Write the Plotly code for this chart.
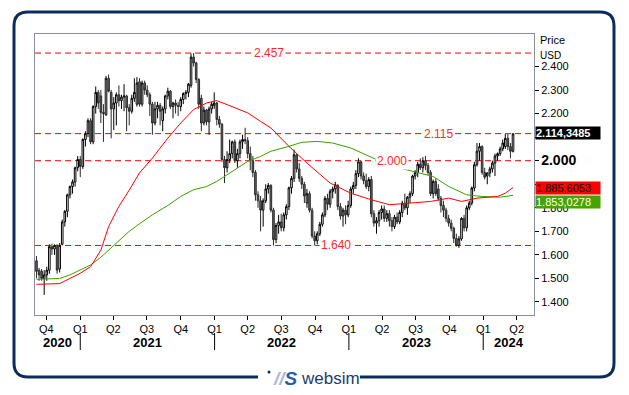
import pandas as pd
import plotly.graph_objects as go

# ---------------- data (weekly candles) ----------------
start_week = "2020-09-04"

opens = [
    1.575, 1.535, 1.530, 1.500, 1.515, 1.535, 1.635, 1.625, 1.635, 1.540,
    1.645, 1.740, 1.785, 1.855, 1.890, 1.910, 1.970, 2.005, 1.975, 2.090,
    2.115, 2.170, 2.080, 2.230, 2.290, 2.275, 2.205, 2.195, 2.350, 2.290,
    2.220, 2.245, 2.280, 2.255, 2.270, 2.275, 2.225, 2.210, 2.265, 2.240,
    2.335, 2.240, 2.330, 2.300, 2.280, 2.240, 2.160, 2.220, 2.235, 2.170,
    2.220, 2.275, 2.295, 2.230, 2.245, 2.235, 2.230, 2.260, 2.285, 2.290,
    2.320, 2.440, 2.415, 2.345, 2.265, 2.160, 2.215, 2.165, 2.220, 2.235,
    2.245, 2.175, 2.155, 2.005, 1.970, 2.005, 2.030, 2.080, 2.000, 2.030,
    2.080, 2.090, 2.085, 2.030, 2.000, 1.950, 1.855, 1.830, 1.790, 1.830,
    1.880, 1.895, 1.790, 1.665, 1.725, 1.740, 1.715, 1.770, 1.805, 1.885,
    1.925, 2.025, 1.965, 1.925, 1.900, 1.820, 1.860, 1.790, 1.680, 1.660,
    1.690, 1.730, 1.770, 1.840, 1.815, 1.870, 1.880, 1.895, 1.805, 1.765,
    1.790, 1.770, 1.810, 1.880, 1.895, 1.945, 1.995, 1.935, 1.915, 1.890,
    1.920, 1.775, 1.735, 1.745, 1.780, 1.795, 1.755, 1.775, 1.745, 1.720,
    1.760, 1.740, 1.780, 1.820, 1.800, 1.845, 1.860, 1.935, 1.950, 1.985,
    1.970, 2.000, 1.980, 1.950, 1.860, 1.912, 1.880, 1.840, 1.810, 1.790,
    1.755, 1.735, 1.713, 1.670, 1.640, 1.668, 1.755, 1.715, 1.800, 1.820,
    1.884, 1.983, 2.040, 2.060, 1.950, 1.935, 1.948, 1.965, 1.990, 2.020,
    2.030, 2.050, 2.060, 2.095, 2.060, 2.040,
]
highs = [
    1.595, 1.545, 1.540, 1.535, 1.550, 1.645, 1.648, 1.645, 1.645, 1.650,
    1.750, 1.790, 1.860, 1.895, 1.920, 1.975, 2.020, 2.020, 2.095, 2.125,
    2.180, 2.180, 2.235, 2.315, 2.300, 2.300, 2.240, 2.360, 2.366, 2.300,
    2.270, 2.290, 2.320, 2.280, 2.325, 2.280, 2.240, 2.280, 2.350, 2.355,
    2.350, 2.340, 2.340, 2.320, 2.290, 2.250, 2.250, 2.250, 2.245, 2.230,
    2.280, 2.310, 2.300, 2.250, 2.260, 2.250, 2.270, 2.290, 2.300, 2.330,
    2.455, 2.457, 2.420, 2.350, 2.280, 2.230, 2.220, 2.230, 2.250, 2.290,
    2.250, 2.190, 2.160, 2.020, 2.040, 2.090, 2.085, 2.090, 2.050, 2.090,
    2.110, 2.140, 2.100, 2.060, 2.020, 1.960, 1.870, 1.850, 1.840, 1.900,
    1.905, 1.900, 1.800, 1.735, 1.770, 1.775, 1.780, 1.815, 1.890, 1.935,
    2.047, 2.030, 1.990, 1.935, 1.910, 1.880, 1.870, 1.800, 1.700, 1.700,
    1.740, 1.780, 1.850, 1.860, 1.880, 1.890, 1.910, 1.900, 1.820, 1.800,
    1.810, 1.830, 1.890, 1.910, 1.960, 2.010, 2.000, 1.950, 1.945, 1.930,
    1.935, 1.790, 1.760, 1.790, 1.810, 1.810, 1.790, 1.790, 1.760, 1.770,
    1.780, 1.790, 1.830, 1.860, 1.850, 1.870, 1.940, 1.960, 1.995, 2.010,
    2.015, 2.020, 1.990, 1.960, 1.920, 1.925, 1.900, 1.850, 1.830, 1.800,
    1.770, 1.750, 1.720, 1.690, 1.680, 1.760, 1.770, 1.810, 1.830, 1.890,
    1.995, 2.075, 2.075, 2.065, 1.970, 1.950, 1.975, 2.000, 2.030, 2.035,
    2.060, 2.090, 2.113, 2.113, 2.075, 2.116,
]
lows = [
    1.500, 1.490, 1.490, 1.430, 1.490, 1.520, 1.600, 1.600, 1.520, 1.525,
    1.640, 1.720, 1.760, 1.840, 1.860, 1.890, 1.955, 1.930, 1.965, 2.060,
    2.100, 2.070, 2.070, 2.200, 2.220, 2.160, 2.080, 2.190, 2.290, 2.095,
    2.130, 2.150, 2.230, 2.220, 2.210, 2.125, 2.150, 2.200, 2.250, 2.230,
    2.230, 2.230, 2.280, 2.270, 2.190, 2.110, 2.150, 2.180, 2.150, 2.125,
    2.200, 2.260, 2.220, 2.180, 2.200, 2.190, 2.210, 2.240, 2.260, 2.270,
    2.310, 2.400, 2.330, 2.220, 2.125, 2.150, 2.150, 2.110, 2.200, 2.220,
    2.150, 2.140, 1.995, 1.905, 1.950, 1.990, 2.010, 1.990, 1.970, 2.010,
    2.050, 2.070, 2.010, 1.960, 1.930, 1.830, 1.800, 1.700, 1.720, 1.820,
    1.860, 1.780, 1.640, 1.650, 1.690, 1.700, 1.700, 1.750, 1.790, 1.860,
    1.910, 1.950, 1.910, 1.880, 1.820, 1.800, 1.780, 1.670, 1.640, 1.645,
    1.680, 1.720, 1.760, 1.790, 1.800, 1.840, 1.860, 1.790, 1.750, 1.720,
    1.730, 1.760, 1.800, 1.860, 1.880, 1.930, 1.920, 1.900, 1.880, 1.870,
    1.760, 1.720, 1.690, 1.720, 1.750, 1.740, 1.740, 1.720, 1.700, 1.710,
    1.730, 1.730, 1.760, 1.790, 1.770, 1.820, 1.850, 1.920, 1.930, 1.960,
    1.950, 1.960, 1.940, 1.850, 1.840, 1.850, 1.830, 1.780, 1.760, 1.740,
    1.720, 1.700, 1.650, 1.635, 1.630, 1.660, 1.700, 1.700, 1.790, 1.810,
    1.870, 1.975, 2.000, 1.940, 1.920, 1.900, 1.930, 1.950, 1.935, 2.000,
    2.020, 2.040, 2.050, 2.045, 2.010, 2.035,
]
closes = [
    1.530, 1.515, 1.500, 1.515, 1.535, 1.635, 1.625, 1.640, 1.535, 1.640,
    1.740, 1.785, 1.855, 1.890, 1.910, 1.970, 2.005, 1.975, 2.090, 2.115,
    2.170, 2.080, 2.230, 2.290, 2.245, 2.205, 2.200, 2.350, 2.295, 2.220,
    2.245, 2.280, 2.255, 2.270, 2.275, 2.225, 2.210, 2.265, 2.290, 2.330,
    2.240, 2.330, 2.300, 2.280, 2.240, 2.160, 2.220, 2.235, 2.210, 2.220,
    2.275, 2.295, 2.230, 2.245, 2.235, 2.230, 2.260, 2.285, 2.290, 2.325,
    2.440, 2.415, 2.345, 2.240, 2.160, 2.215, 2.165, 2.220, 2.240, 2.245,
    2.175, 2.155, 2.005, 1.970, 2.005, 2.030, 2.080, 2.000, 2.030, 2.080,
    2.090, 2.085, 2.030, 2.000, 1.950, 1.855, 1.830, 1.790, 1.830, 1.880,
    1.895, 1.790, 1.665, 1.725, 1.740, 1.715, 1.770, 1.805, 1.885, 1.925,
    2.025, 1.965, 1.925, 1.900, 1.850, 1.860, 1.790, 1.680, 1.660, 1.690,
    1.730, 1.770, 1.840, 1.815, 1.870, 1.880, 1.898, 1.805, 1.765, 1.790,
    1.770, 1.810, 1.880, 1.895, 1.945, 1.995, 1.935, 1.915, 1.890, 1.920,
    1.775, 1.735, 1.745, 1.780, 1.795, 1.755, 1.775, 1.745, 1.720, 1.760,
    1.740, 1.780, 1.820, 1.800, 1.845, 1.860, 1.935, 1.950, 1.985, 1.970,
    2.000, 1.980, 1.950, 1.860, 1.912, 1.860, 1.840, 1.810, 1.790, 1.755,
    1.735, 1.713, 1.670, 1.640, 1.668, 1.755, 1.715, 1.800, 1.820, 1.884,
    1.983, 2.040, 2.060, 1.950, 1.930, 1.948, 1.965, 1.990, 2.020, 2.030,
    2.050, 2.075, 2.095, 2.060, 2.040, 2.114,
]

# moving averages (week index -> value)
red_ma_weeks = [0, 4, 9, 13, 17, 21, 25, 28, 32, 36, 40, 45, 51, 56, 61, 66, 70, 74,
                82, 87, 91, 98, 105, 114, 122, 130, 137, 145, 153, 160, 165, 171,
                179, 182, 185]
red_ma_values = [1.475, 1.475, 1.478, 1.500, 1.522, 1.550, 1.620, 1.720, 1.806, 1.875,
                 1.948, 2.011, 2.096, 2.160, 2.217, 2.245, 2.255, 2.238, 2.203, 2.167,
                 2.139, 2.061, 1.990, 1.905, 1.862, 1.834, 1.813, 1.820, 1.827, 1.841,
                 1.827, 1.841, 1.848, 1.862, 1.886]
green_ma_weeks = [0, 9, 13, 17, 21, 25, 28, 32, 36, 40, 45, 51, 56, 61, 66, 70, 74, 78,
                  82, 87, 91, 98, 103, 109, 115, 122, 128, 135, 141, 148, 154, 160,
                  167, 173, 180, 185]
green_ma_values = [1.496, 1.500, 1.515, 1.536, 1.557, 1.590, 1.620, 1.660, 1.700, 1.732,
                   1.770, 1.810, 1.848, 1.877, 1.890, 1.912, 1.940, 1.969, 1.997, 2.018,
                   2.040, 2.061, 2.078, 2.082, 2.075, 2.054, 2.026, 1.990, 1.969, 1.948,
                   1.933, 1.891, 1.855, 1.848, 1.845, 1.853]

level_values = [2.457, 2.115, 2.000, 1.640]
level_labels = ["2.457", "2.115", "2.000", "1.640"]

last_price_text = "2.114,3485"
red_ma_text = "1.885,6053"
green_ma_text = "1.853,0278"
last_price = 2.1143485
red_ma_last = 1.8856053
green_ma_last = 1.8530278

y_ticks = [1.4, 1.5, 1.6, 1.7, 1.8, 1.9, 2.0, 2.1, 2.2, 2.3, 2.4]
y_tick_labels = ["1.400", "1.500", "1.600", "1.700", "1.800", "", "2.000", "",
                 "2.200", "2.300", "2.400"]
quarter_ticks = ["2020-10-01", "2021-01-01", "2021-04-01", "2021-07-01", "2021-10-01",
                 "2022-01-01", "2022-04-01", "2022-07-01", "2022-10-01", "2023-01-01",
                 "2023-04-01", "2023-07-01", "2023-10-01", "2024-01-01", "2024-04-01"]
quarter_labels = ["Q4", "Q1", "Q2", "Q3", "Q4", "Q1", "Q2", "Q3", "Q4", "Q1",
                  "Q2", "Q3", "Q4", "Q1", "Q2"]
year_starts = ["2021-01-01", "2022-01-01", "2023-01-01", "2024-01-01"]
year_labels = ["2020", "2021", "2022", "2023", "2024"]

# ---------------- build ----------------
weeks = pd.date_range(start_week, periods=len(closes), freq="7D")
red_dates = [weeks[i] for i in red_ma_weeks]
green_dates = [weeks[i] for i in green_ma_weeks]

X0, X1 = pd.Timestamp("2020-08-31"), pd.Timestamp("2024-05-18")
Y0, Y1 = 1.3447, 2.538

# plot area in pixels
PL, PR, PT, PB = 35, 534, 34, 315
W, H = 629, 395


def px(X):
    return (X - PL) / (PR - PL)


def py(Y):
    return (PB - Y) / (PB - PT)


FONT = "Arial, Liberation Sans, sans-serif"

fig = go.Figure()

fig.add_trace(go.Scatter(x=green_dates, y=green_ma_values, mode="lines",
                         line=dict(color="#3aa000", width=1), hoverinfo="skip"))
fig.add_trace(go.Scatter(x=red_dates, y=red_ma_values, mode="lines",
                         line=dict(color="#ff0000", width=1), hoverinfo="skip"))

fig.add_trace(go.Candlestick(
    x=weeks, open=opens, high=highs, low=lows, close=closes,
    increasing=dict(line=dict(color="#000000", width=1), fillcolor="#ffffff"),
    decreasing=dict(line=dict(color="#2a2a2a", width=1), fillcolor="#6a6a6a"),
    whiskerwidth=0,
))

shapes = []
annotations = []

# horizontal level lines
for v in level_values:
    shapes.append(dict(type="line", xref="paper", x0=0, x1=1, yref="y", y0=v, y1=v,
                       line=dict(color="#ff0000", width=1, dash="6px,4px"), layer="below"))
level_label_x = [269, 438, 392, 336]
for v, t, lx in zip(level_values, level_labels, level_label_x):
    annotations.append(dict(x=px(lx), xref="paper", y=v, yref="y", text=t, showarrow=False,
                            font=dict(family=FONT, size=12, color="#ff2a2a"),
                            bgcolor="#ffffff", borderpad=1, xanchor="center", yanchor="middle"))

# year separators and labels
for d in year_starts:
    shapes.append(dict(type="line", xref="x", x0=d, x1=d, yref="paper",
                       y0=py(333), y1=py(350), line=dict(color="#000000", width=1)))
year_bounds = [X0] + [pd.Timestamp(d) for d in year_starts] + [X1]
for k, t in enumerate(year_labels):
    mid = year_bounds[k] + (year_bounds[k + 1] - year_bounds[k]) / 2
    annotations.append(dict(x=mid, xref="x", y=py(342), yref="paper", text="<b>" + t + "</b>",
                            showarrow=False, font=dict(family=FONT, size=13, color="#000000"),
                            xanchor="center", yanchor="middle"))

# right-side labels
annotations.append(dict(x=px(538), xref="paper", y=py(40), yref="paper", text="Price",
                        showarrow=False, xanchor="left", yanchor="middle",
                        font=dict(family=FONT, size=11, color="#000000")))
annotations.append(dict(x=px(538), xref="paper", y=py(55), yref="paper", text="USD",
                        showarrow=False, xanchor="left", yanchor="middle",
                        font=dict(family=FONT, size=10, color="#000000")))

annotations.append(dict(x=px(535), xref="paper", y=last_price, yref="y", yshift=1,
                        text="<b>" + last_price_text + "</b>", showarrow=False,
                        xanchor="left", yanchor="middle", bgcolor="#000000", borderpad=0,
                        width=64, height=12, align="left",
                        font=dict(family=FONT, size=11, color="#ffffff")))
annotations.append(dict(x=px(535), xref="paper", y=red_ma_last, yref="y", yshift=0,
                        text=red_ma_text, showarrow=False,
                        xanchor="left", yanchor="middle", bgcolor="#ff0000", borderpad=0,
                        width=64, height=12, align="left",
                        font=dict(family=FONT, size=11, color="#000000")))
annotations.append(dict(x=px(535), xref="paper", y=green_ma_last, yref="y", yshift=-7,
                        text=green_ma_text, showarrow=False,
                        xanchor="left", yanchor="middle", bgcolor="#44a300", borderpad=0,
                        width=64, height=12, align="left",
                        font=dict(family=FONT, size=11, color="#ffffff")))

# outer rounded border with gap for logo
r = 14
bx0, bx1, by0, by1 = 14, 614, 12, 377
gap_l, gap_r = 258, 360
pts = [
    ("M", gap_l, by1), ("L", bx0 + r, by1), ("Q", bx0, by1, bx0, by1 - r),
    ("L", bx0, by0 + r), ("Q", bx0, by0, bx0 + r, by0),
    ("L", bx1 - r, by0), ("Q", bx1, by0, bx1, by0 + r),
    ("L", bx1, by1 - r), ("Q", bx1, by1, bx1 - r, by1), ("L", gap_r, by1),
]
path = ""
for p in pts:
    cmd = p[0]
    coords = p[1:]
    s = []
    for j in range(0, len(coords), 2):
        s.append("%.5f,%.5f" % (px(coords[j]), py(coords[j + 1])))
    path += cmd + " " + " ".join(s) + " "
shapes.append(dict(type="path", xref="paper", yref="paper", path=path.strip(),
                   line=dict(color="#0c2c5c", width=3)))

# logo
shapes.append(dict(type="circle", xref="paper", yref="paper",
                   x0=px(267.5), x1=px(270.5), y0=py(370.5), y1=py(373.5),
                   fillcolor="#0c2c5c", line=dict(width=0)))
annotations.append(dict(x=px(271), xref="paper", y=py(378), yref="paper",
                        text="<b><i><span style='color:#a8b8d4'>//</span><span style='color:#2b5cab'>S</span></i></b>",
                        showarrow=False, xanchor="left", yanchor="middle",
                        font=dict(family=FONT, size=19, color="#2b5cab")))
annotations.append(dict(x=px(299), xref="paper", y=py(378), yref="paper", text="websim",
                        showarrow=False, xanchor="left", yanchor="middle",
                        font=dict(family=FONT, size=17, color="#1c3c70")))

ytext = []
for v, t in zip(y_ticks, y_tick_labels):
    if t == "2.000":
        ytext.append("<b><span style='font-size:14px'>" + t + "</span></b>")
    else:
        ytext.append(t)

fig.update_layout(
    width=W, height=H,
    margin=dict(l=PL, r=W - PR, t=PT, b=H - PB, pad=0),
    paper_bgcolor="#ffffff", plot_bgcolor="#ffffff",
    showlegend=False,
    boxgap=0.12,
    shapes=shapes, annotations=annotations,
    font=dict(family=FONT, size=11, color="#000000"),
    xaxis=dict(type="date", range=[X0, X1], rangeslider=dict(visible=False),
               tickvals=quarter_ticks, ticktext=quarter_labels,
               ticks="outside", ticklen=4, tickcolor="#000000", tickwidth=1,
               showgrid=False, zeroline=False,
               showline=True, linecolor="#8e8e9c", linewidth=1, mirror=True,
               tickfont=dict(family=FONT, size=11, color="#000000")),
    yaxis=dict(range=[Y0, Y1], side="right", tickvals=y_ticks, ticktext=ytext,
               ticks="outside", ticklen=4, tickcolor="#000000", tickwidth=1,
               showgrid=False, zeroline=False,
               showline=True, linecolor="#8e8e9c", linewidth=1, mirror=True,
               tickfont=dict(family=FONT, size=11, color="#000000")),
)

fig.write_html("out.html", config={"displayModeBar": False},
               post_script="document.body.style.margin='0px';")
